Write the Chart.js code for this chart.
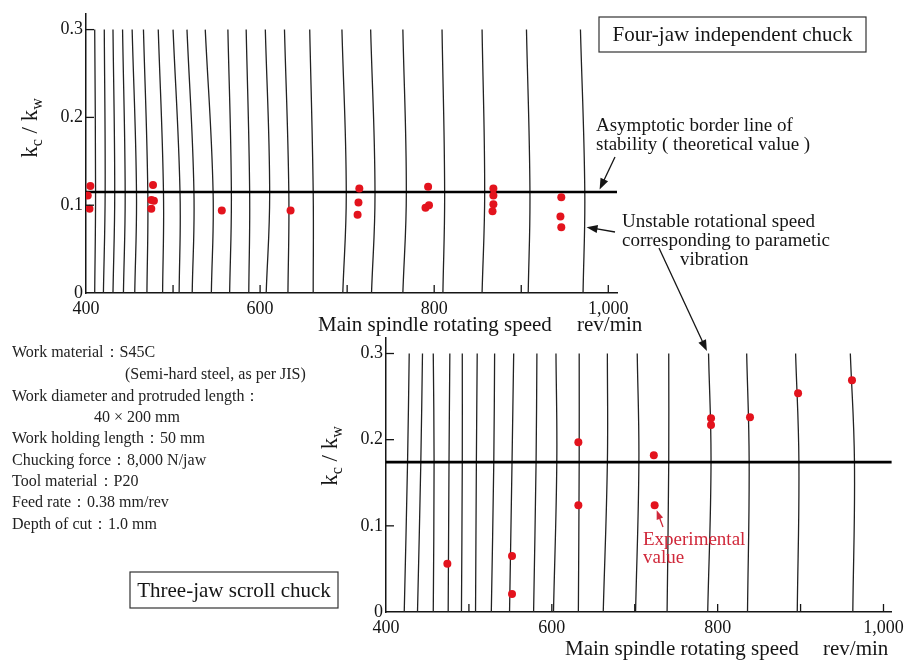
<!DOCTYPE html>
<html>
<head>
<meta charset="utf-8">
<script src="https://cdn.jsdelivr.net/npm/chart.js@4.4.1/dist/chart.umd.min.js"></script>
<style>
  html, body { margin: 0; padding: 0; background: #fff; }
  #wrap { position: relative; width: 909px; height: 662px; overflow: hidden; }
  #wrap canvas { position: absolute; left: 0; top: 0; }
</style>
</head>
<body>
<div id="wrap">
  <canvas id="bottomChart" width="909" height="662"></canvas>
  <canvas id="topChart" width="909" height="662"></canvas>
</div>
<script>
const SERIF = '"Liberation Serif", "Times New Roman", "DejaVu Serif", serif';
const INK = '#151515';
const DOT = '#e3131d';

// axis ticks (shared by both panels)
const speedTickValues = [400, 500, 600, 700, 800, 900, 1000];
const speedLabelValues = [400, 600, 800, 1000];
const speedLabels = ['400', '600', '800', '1,000'];
const ratioTickValues = [0, 0.1, 0.2, 0.3];
const ratioLabels = ['0', '0.1', '0.2', '0.3'];

// top panel: four-jaw independent chuck
// unstable-speed curves, speed read at kc/kw = 0, at the border line, and at 0.3
const topCurveLevels = [0, 0.115, 0.3];
const topCurveBase = [410, 420, 431, 443, 456, 470, 488, 507, 522, 544, 565, 587, 607, 632, 661, 695, 728, 764, 810, 855, 908, 971];
const topCurveMid  = [411, 422, 433, 445, 458, 471, 489, 508, 524, 546, 567, 588, 611, 633, 661, 699, 732, 768, 812, 858, 910, 973];
const topCurveTop  = [410, 421, 431, 442, 453, 466, 483, 500, 516, 537, 563, 584, 606, 628, 657, 694, 727, 764, 809, 855, 906, 968];
const topBorder = 0.115;
const topExpSpeed = [405, 402, 404, 477, 475, 478, 475, 556, 635, 714, 713, 712, 793, 790, 794, 868, 868, 868, 867, 946, 945, 946];
const topExpRatio = [0.122, 0.111, 0.096, 0.123, 0.106, 0.105, 0.096, 0.094, 0.094, 0.119, 0.103, 0.089, 0.121, 0.097, 0.1, 0.119, 0.111, 0.101, 0.093, 0.109, 0.087, 0.075];

// bottom panel: three-jaw scroll chuck
const botCurveLevels = [0, 0.174, 0.3];
const botCurveBase = [422, 438, 457, 475, 491, 508, 527, 549, 578, 602, 632, 662, 701, 739, 788, 836, 896, 963];
const botCurveMid  = [426, 442, 458, 476, 492, 509, 530, 552, 581, 606, 633, 667, 705, 741, 792, 838, 898, 965];
const botCurveTop  = [428, 444, 457, 477, 492, 510, 531, 554, 582, 605, 633, 667, 703, 741, 789, 835, 894, 960];
const botBorder = 0.174;
const botExpSpeed = [474, 552, 552, 632, 632, 723, 724, 792, 792, 839, 897, 962];
const botExpRatio = [0.056, 0.065, 0.021, 0.197, 0.124, 0.182, 0.124, 0.225, 0.217, 0.226, 0.254, 0.269];

function curveSets(base, mid, top, levels) {
    return base.map((b, i) => ({
        data: [{ x: b, y: levels[0] }, { x: mid[i], y: levels[1] }, { x: top[i], y: levels[2] }],
        showLine: true,
        borderColor: '#222',
        borderWidth: 1.3,
        pointRadius: 0,
        tension: 0.4,
        order: 2
    }));
}

function buildDatasets(base, mid, top, levels, border, speed, ratio) {
    return [
        {
            data: speed.map((s, i) => ({ x: s, y: ratio[i] })),
            pointRadius: 4,
            pointBorderWidth: 0,
            pointBackgroundColor: DOT,
            order: 0
        },
        {
            data: [{ x: 400, y: border }, { x: 1010, y: border }],
            showLine: true,
            borderColor: '#000',
            borderWidth: 2.6,
            pointRadius: 0,
            order: 1
        },
        ...curveSets(base, mid, top, levels)
    ];
}

function scaleOpts(yWidth) {
    return {
        x: {
            type: 'linear', min: 400, max: 1010,
            afterFit: (s) => { s.height = 45; },
            afterBuildTicks: (s) => { s.ticks = speedTickValues.map((v) => ({ value: v })); },
            grid: { display: false, drawTicks: false },
            border: { display: true, color: INK, width: 1.5 },
            ticks: {
                autoSkip: false, maxRotation: 0,
                padding: 5, color: INK, font: { family: SERIF, size: 18 },
                callback: (v) => {
                    const i = speedLabelValues.indexOf(Math.round(v));
                    return i >= 0 ? speedLabels[i] : '';
                }
            }
        },
        y: {
            type: 'linear', min: 0, max: 0.318,
            afterFit: (s) => { s.width = yWidth; },
            afterBuildTicks: (s) => { s.ticks = ratioTickValues.map((v) => ({ value: v })); },
            grid: { display: false, drawTicks: false },
            border: { display: true, color: INK, width: 1.5 },
            ticks: {
                autoSkip: false, padding: 3,
                color: INK, font: { family: SERIF, size: 18 },
                callback: (v) => ratioLabels[Math.round(v * 10)] ?? ''
            }
        }
    };
}

// ---- drawing helpers for the annotations ----
function put(ctx, str, x, y, size, align = 'left', color = INK) {
    ctx.font = `${size}px ${SERIF}`;
    ctx.fillStyle = color;
    ctx.textAlign = align;
    ctx.textBaseline = 'middle';
    ctx.fillText(str, x, y);
}

function arrow(ctx, x1, y1, x2, y2, color = INK, head = 11) {
    const a = Math.atan2(y2 - y1, x2 - x1);
    const c = Math.cos(a), s = Math.sin(a);
    ctx.save();
    ctx.strokeStyle = color;
    ctx.fillStyle = color;
    ctx.lineWidth = 1.3;
    ctx.beginPath();
    ctx.moveTo(x1, y1);
    ctx.lineTo(x2 - c * head * 0.7, y2 - s * head * 0.7);
    ctx.stroke();
    ctx.beginPath();
    ctx.moveTo(x2, y2);
    ctx.lineTo(x2 - head * c + head * 0.38 * s, y2 - head * s - head * 0.38 * c);
    ctx.lineTo(x2 - head * c - head * 0.38 * s, y2 - head * s + head * 0.38 * c);
    ctx.closePath();
    ctx.fill();
    ctx.restore();
}

function labelBox(ctx, str, x, y, w, h, size) {
    ctx.save();
    ctx.strokeStyle = '#333';
    ctx.lineWidth = 1.2;
    ctx.strokeRect(x, y, w, h);
    put(ctx, str, x + w / 2, y + h / 2 + 1, size, 'center');
    ctx.restore();
}

// k_c / k_w, rotated, subscripts shifted down the baseline
function ratioTitle(ctx, bx, cy) {
    const parts = [['k', 23, 0], ['c', 16, 5], [' / ', 23, 0], ['k', 23, 0], ['w', 16, 5]];
    ctx.save();
    ctx.translate(bx, cy);
    ctx.rotate(-Math.PI / 2);
    ctx.fillStyle = INK;
    ctx.textBaseline = 'alphabetic';
    ctx.textAlign = 'left';
    let total = 0;
    parts.forEach(([t, size]) => { ctx.font = `${size}px ${SERIF}`; total += ctx.measureText(t).width; });
    let x = -total / 2;
    parts.forEach(([t, size, dy]) => {
        ctx.font = `${size}px ${SERIF}`;
        ctx.fillText(t, x, dy);
        x += ctx.measureText(t).width;
    });
    ctx.restore();
}

function inwardTicks(chart) {
    const { ctx, chartArea, scales: { x, y } } = chart;
    ctx.save();
    ctx.strokeStyle = INK;
    ctx.lineWidth = 1.3;
    x.ticks.forEach((t) => {
        if (t.value <= x.min) return;
        const px = x.getPixelForValue(t.value);
        ctx.beginPath();
        ctx.moveTo(px, chartArea.bottom);
        ctx.lineTo(px, chartArea.bottom - 8);
        ctx.stroke();
    });
    y.ticks.forEach((t) => {
        if (t.value <= y.min) return;
        const py = y.getPixelForValue(t.value);
        ctx.beginPath();
        ctx.moveTo(chartArea.left, py);
        ctx.lineTo(chartArea.left + 8, py);
        ctx.stroke();
    });
    ctx.restore();
}

const topDecor = {
    id: 'topDecor',
    afterDraw(chart) {
        const { ctx, scales: { x, y } } = chart;
        inwardTicks(chart);
        ratioTitle(ctx, 37, 128);
        put(ctx, 'Main spindle rotating speed', 318, 325, 21);
        put(ctx, 'rev/min', 577, 325, 21);
        labelBox(ctx, 'Four-jaw independent chuck', 599, 17, 267, 35, 21);

        put(ctx, 'Asymptotic border line of', 596, 126, 19);
        put(ctx, 'stability ( theoretical value )', 596, 145, 19);
        arrow(ctx, 615, 157, x.getPixelForValue(990), y.getPixelForValue(0.118));

        put(ctx, 'Unstable rotational speed', 622, 222, 19);
        put(ctx, 'corresponding to parametic', 622, 241, 19);
        put(ctx, 'vibration', 680, 260, 19);
        arrow(ctx, 615, 232, x.getPixelForValue(975), y.getPixelForValue(0.075));
    }
};

const bottomDecor = {
    id: 'bottomDecor',
    afterDraw(chart) {
        const { ctx, scales: { x, y } } = chart;
        inwardTicks(chart);
        ratioTitle(ctx, 337, 456);
        put(ctx, 'Main spindle rotating speed', 565, 649, 21);
        put(ctx, 'rev/min', 823, 649, 21);
        labelBox(ctx, 'Three-jaw scroll chuck', 130, 572, 208, 36, 21);

        // long arrow from the top panel's note down to one curve
        arrow(ctx, 659, 248, x.getPixelForValue(787), y.getPixelForValue(0.303));

        put(ctx, 'Experimental', 643, 540, 19, 'left', '#d0283a');
        put(ctx, 'value', 643, 558, 19, 'left', '#d0283a');
        arrow(ctx, 663, 527, x.getPixelForValue(726.5), y.getPixelForValue(0.118), '#d0283a', 9);

        const notes = [
            ['Work material：S45C', 12, 353],
            ['(Semi-hard steel, as per JIS)', 125, 375],
            ['Work diameter and protruded length：', 12, 397],
            ['40 × 200 mm', 94, 418],
            ['Work holding length：50 mm', 12, 439],
            ['Chucking force：8,000 N/jaw', 12, 461],
            ['Tool material：P20', 12, 482],
            ['Feed rate：0.38 mm/rev', 12, 503],
            ['Depth of cut：1.0 mm', 12, 525]
        ];
        notes.forEach(([t, nx, ny]) => put(ctx, t, nx, ny, 16, 'left', '#222'));
    }
};

function makeChart(id, datasets, yWidth, padding, decor) {
    return new Chart(document.getElementById(id), {
        type: 'scatter',
        data: { datasets },
        options: {
            responsive: false,
            animation: false,
            devicePixelRatio: 1,
            layout: { padding },
            scales: scaleOpts(yWidth),
            plugins: { legend: { display: false }, tooltip: { enabled: false } },
            events: []
        },
        plugins: [decor]
    });
}

makeChart('topChart',
    buildDatasets(topCurveBase, topCurveMid, topCurveTop, topCurveLevels, topBorder, topExpSpeed, topExpRatio),
    50, { left: 36, right: 292, top: 8, bottom: 324 }, topDecor);

makeChart('bottomChart',
    buildDatasets(botCurveBase, botCurveMid, botCurveTop, botCurveLevels, botBorder, botExpSpeed, botExpRatio),
    60, { left: 326, right: 16, top: 338, bottom: 5 }, bottomDecor);
</script>
</body>
</html>
